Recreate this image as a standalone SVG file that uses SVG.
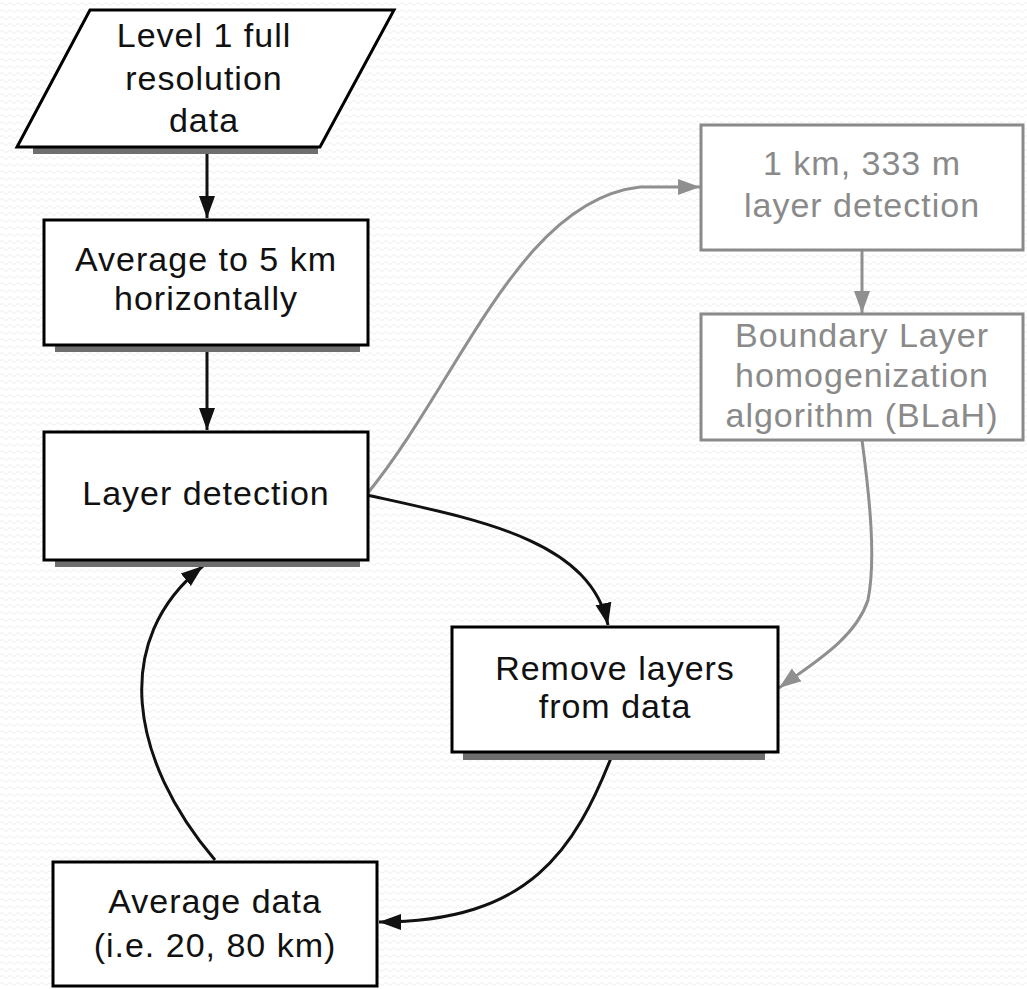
<svg xmlns="http://www.w3.org/2000/svg" width="1027" height="989" viewBox="0 0 1027 989">
<style>
  .box { fill: #ffffff; stroke: #000000; stroke-width: 3; }
  .gbox { fill: #ffffff; stroke: #8a8a8a; stroke-width: 3; }
  .shadow { fill: #6e6e6e; }
  .t { font-family: "Liberation Sans", Arial, sans-serif; font-size: 34px; letter-spacing: 1px; fill: #111111; text-anchor: middle; }
  .gt { fill: #8a8a8a; }
  .c { fill: none; stroke: #111111; stroke-width: 3; }
  .gc { fill: none; stroke: #8f8f8f; stroke-width: 3; }
</style>
<defs>
  <pattern id="bg" width="8" height="7" patternUnits="userSpaceOnUse">
    <path d="M0,4 Q2,1 4,4 T8,4" fill="none" stroke="#eeeeee" stroke-width="1"/>
  </pattern>
  <marker id="ab" markerUnits="userSpaceOnUse" markerWidth="24" markerHeight="20" refX="22" refY="9" orient="auto">
    <path d="M0,1 L22,9 L0,17 Z" fill="#111111"/>
  </marker>
  <marker id="ag" markerUnits="userSpaceOnUse" markerWidth="24" markerHeight="20" refX="22" refY="9" orient="auto">
    <path d="M0,1 L22,9 L0,17 Z" fill="#8f8f8f"/>
  </marker>
</defs>
<rect x="0" y="0" width="1027" height="989" fill="#ffffff"/>
<rect x="0" y="0" width="1027" height="989" fill="url(#bg)"/>

<g id="connectors">
  <line class="c" x1="207" y1="154" x2="207" y2="218" marker-end="url(#ab)"/>
  <line class="c" x1="207" y1="352" x2="207" y2="430" marker-end="url(#ab)"/>
  <path class="gc" d="M367,494 C460,380 520,200 640,187 L700,187" marker-end="url(#ag)"/>
  <line class="gc" x1="862" y1="250" x2="862" y2="313" marker-end="url(#ag)"/>
  <path class="c" d="M367,495 C480,520 590,540 608,625" marker-end="url(#ab)"/>
  <path class="gc" d="M862,440 C870,500 876,560 868,600 C855,640 810,665 779,688" marker-end="url(#ag)"/>
  <path class="c" d="M613,753 C575,850 530,922 379,922" marker-end="url(#ab)"/>
  <path class="c" d="M215,860 C130,760 110,640 203,566" marker-end="url(#ab)"/>
</g>

<g id="node-level1">
  <rect class="shadow" x="33" y="147" width="285" height="7"/>
  <polygon class="box" points="90,10 394,10 320,147 17,147"/>
  <text class="t" x="204" y="47">Level 1 full</text>
  <text class="t" x="204" y="90">resolution</text>
  <text class="t" x="204" y="132">data</text>
</g>

<g id="node-avg5">
  <rect class="shadow" x="55" y="345" width="305" height="7"/>
  <rect class="box" x="44" y="220" width="324" height="125"/>
  <text class="t" x="206" y="271">Average to 5 km</text>
  <text class="t" x="206" y="310">horizontally</text>
</g>

<g id="node-layerdet">
  <rect class="shadow" x="55" y="560" width="305" height="7"/>
  <rect class="box" x="44" y="432" width="324" height="128"/>
  <text class="t" x="206" y="505">Layer detection</text>
</g>

<g id="node-1km">
  <rect class="gbox" x="701" y="125" width="322" height="125"/>
  <text class="t gt" x="862" y="175">1 km, 333 m</text>
  <text class="t gt" x="862" y="217">layer detection</text>
</g>

<g id="node-blah">
  <rect class="gbox" x="701" y="314" width="322" height="126"/>
  <text class="t gt" x="862" y="347">Boundary Layer</text>
  <text class="t gt" x="862" y="387">homogenization</text>
  <text class="t gt" x="862" y="427">algorithm (BLaH)</text>
</g>

<g id="node-remove">
  <rect class="shadow" x="463" y="752" width="302" height="8"/>
  <rect class="box" x="452" y="627" width="326" height="125"/>
  <text class="t" x="615" y="680">Remove layers</text>
  <text class="t" x="615" y="718">from data</text>
</g>

<g id="node-avgdata">
  <rect class="box" x="53" y="862" width="324" height="124"/>
  <text class="t" x="215" y="913">Average data</text>
  <text class="t" x="215" y="957">(i.e. 20, 80 km)</text>
</g>
</svg>
